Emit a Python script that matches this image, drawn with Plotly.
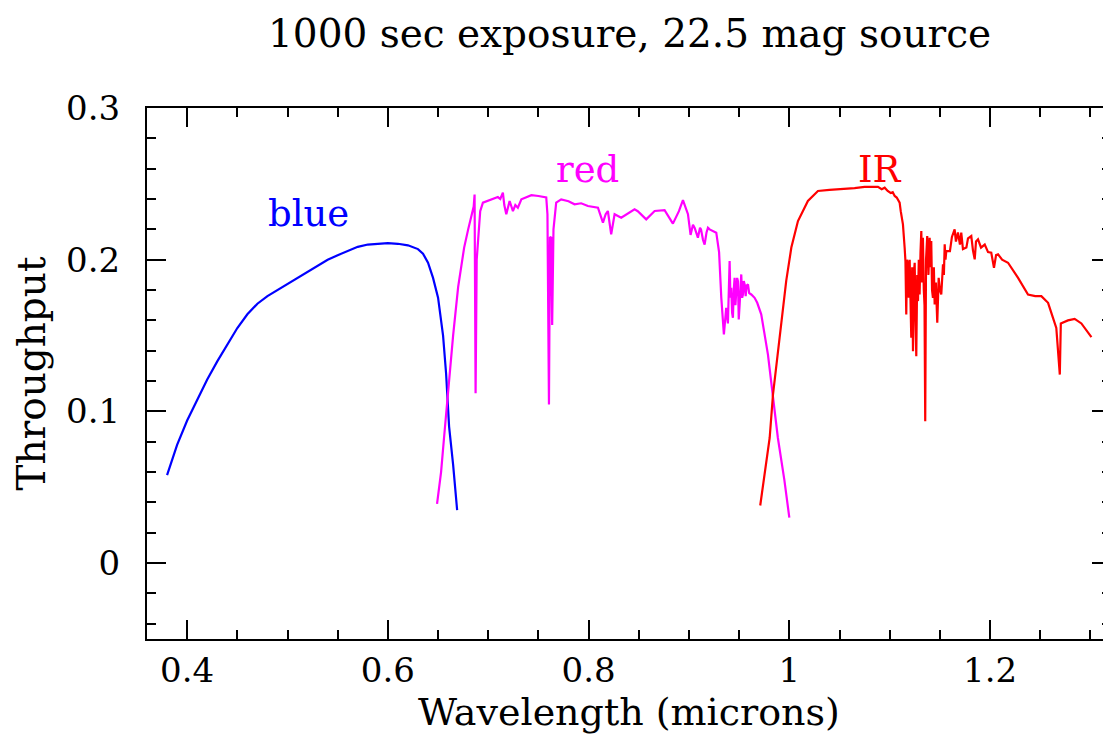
import plotly.graph_objects as go

# ---- data ----
blue_wl = [0.380, 0.390, 0.400, 0.410, 0.420, 0.430, 0.440, 0.450, 0.460, 0.470,
           0.480, 0.490, 0.500, 0.510, 0.520, 0.530, 0.540, 0.550, 0.560, 0.570,
           0.580, 0.590, 0.600, 0.610, 0.620, 0.630, 0.635, 0.640, 0.645, 0.650,
           0.655, 0.658, 0.661, 0.665, 0.669]
blue_tp = [0.058, 0.078, 0.094, 0.108, 0.121, 0.133, 0.144, 0.155, 0.164, 0.171,
           0.176, 0.180, 0.184, 0.188, 0.192, 0.196, 0.200, 0.203, 0.206, 0.2085,
           0.210, 0.2105, 0.211, 0.2105, 0.2095, 0.207, 0.204, 0.198, 0.188, 0.175,
           0.150, 0.125, 0.090, 0.065, 0.035]

red_wl = [0.649, 0.653, 0.656, 0.659, 0.6615, 0.665, 0.670, 0.676, 0.680, 0.683,
          0.6855, 0.6864, 0.6874, 0.6885, 0.6897, 0.692, 0.6947, 0.700, 0.705, 0.7096,
          0.712, 0.7146, 0.716, 0.718, 0.7213, 0.7246, 0.727, 0.7295, 0.733, 0.738,
          0.743, 0.750, 0.7578, 0.759, 0.7605, 0.7615, 0.7627, 0.7637, 0.765, 0.7677,
          0.7727, 0.780, 0.786, 0.7926, 0.7993, 0.8093, 0.8143, 0.817, 0.8192, 0.8225,
          0.8259, 0.8325, 0.840, 0.8458, 0.849, 0.8574, 0.8658, 0.8757, 0.884, 0.890,
          0.894, 0.899, 0.9016, 0.9040, 0.9056, 0.9075, 0.9089, 0.9110, 0.912, 0.9140,
          0.9156, 0.9175, 0.9189, 0.9206, 0.9240, 0.9272, 0.9300,
          0.9322, 0.9348, 0.9360, 0.9371, 0.9388, 0.9405, 0.9413, 0.9421, 0.9430, 0.9438,
          0.9446, 0.9455, 0.9463, 0.9471, 0.9480, 0.9488, 0.9496, 0.9505, 0.9513, 0.9521,
          0.9530, 0.9538, 0.9546, 0.9555, 0.9565, 0.9575, 0.9588, 0.9600, 0.9621, 0.9640,
          0.9654, 0.9680, 0.9720, 0.9787, 0.9837, 0.9886, 0.9950, 1.0000]
red_tp = [0.039, 0.060, 0.083, 0.105, 0.127, 0.150, 0.182, 0.208, 0.220, 0.228,
          0.235, 0.243, 0.112, 0.200, 0.210, 0.232, 0.2376, 0.239, 0.240, 0.2413,
          0.240, 0.2442, 0.236, 0.230, 0.2387, 0.232, 0.236, 0.2343, 0.2398, 0.241,
          0.2425, 0.242, 0.241, 0.230, 0.1045, 0.215, 0.2145, 0.157, 0.220, 0.2376,
          0.2398, 0.2385, 0.2365, 0.2372, 0.2354, 0.2343, 0.2244, 0.230, 0.2321, 0.2167,
          0.230, 0.2277, 0.231, 0.2332, 0.232, 0.2266, 0.2321, 0.2326, 0.2238, 0.232,
          0.2392, 0.230, 0.2163, 0.2230, 0.2211, 0.2170, 0.2145, 0.2210, 0.2200, 0.2130,
          0.2100, 0.2180, 0.2211, 0.2200, 0.2190, 0.2178, 0.2050,
          0.1750, 0.1507, 0.1620, 0.1683, 0.1580, 0.1991, 0.1750, 0.1815, 0.1650, 0.1617,
          0.1800, 0.1881, 0.1700, 0.1771, 0.1880, 0.1859, 0.1606, 0.1705, 0.1850, 0.1903,
          0.1750, 0.1771, 0.1860, 0.1837, 0.1760, 0.1830, 0.1837, 0.1780, 0.1771, 0.1760,
          0.1749, 0.1716, 0.1640, 0.1375, 0.1110, 0.0825, 0.0550, 0.0300]

ir_wl = [0.971, 0.976, 0.9804, 0.9837, 0.9886, 0.993, 0.9969, 1.002, 1.0086, 1.0185,
         1.0285, 1.040, 1.0517, 1.065, 1.075, 1.082, 1.0883, 1.092, 1.095, 1.098,
         1.101, 1.103, 1.105, 1.107, 1.1099, 1.111,
         1.1132, 1.1149, 1.1157, 1.1165, 1.1173, 1.1182, 1.1190, 1.1199, 1.1207, 1.1215,
         1.1224, 1.1232, 1.1240, 1.1249, 1.1257, 1.1265, 1.1274, 1.1282, 1.1290, 1.1298,
         1.1307, 1.1315, 1.1323, 1.1331, 1.1340, 1.1347, 1.1354, 1.1362, 1.1374, 1.1386,
         1.1398, 1.1406, 1.1414, 1.1422, 1.1431, 1.1440, 1.1448, 1.1460, 1.1474, 1.1481,
         1.1488, 1.1500, 1.1514, 1.1531, 1.1540, 1.1548, 1.1556, 1.1564,
         1.1600, 1.1620, 1.1647, 1.1660, 1.1680, 1.1700, 1.1713, 1.1730, 1.1764, 1.1780,
         1.1813, 1.1830, 1.1847, 1.1860, 1.1880, 1.1910, 1.1947, 1.1980, 1.2012, 1.2039,
         1.2060, 1.2080, 1.2120, 1.2179, 1.2279, 1.2378, 1.2450,
         1.2511, 1.2578, 1.2627, 1.2660, 1.2695, 1.2705, 1.2776, 1.2843, 1.2910, 1.3010]
ir_tp = [0.038, 0.060, 0.0825, 0.111, 0.1375, 0.165, 0.186, 0.208, 0.2255, 0.2387,
         0.2453, 0.246, 0.2464, 0.2472, 0.248, 0.2478, 0.248, 0.2465, 0.2475, 0.2453,
         0.244, 0.2445, 0.242, 0.241, 0.2376, 0.232,
         0.2233, 0.2079, 0.1990, 0.1639, 0.2000, 0.1969, 0.1750, 0.2000, 0.1705, 0.1485,
         0.1950, 0.1397, 0.1900, 0.1980, 0.1600, 0.1364, 0.1900, 0.1727, 0.2000, 0.1771,
         0.2050, 0.2189, 0.1850, 0.2145, 0.1800, 0.1700, 0.0935, 0.2000, 0.2156, 0.1900,
         0.2145, 0.1950, 0.2123, 0.1800, 0.1749, 0.1950, 0.1705, 0.1850, 0.1584, 0.1750,
         0.1881, 0.1800, 0.1771, 0.1969, 0.1900, 0.2101, 0.2000, 0.2057,
         0.2057, 0.2150, 0.2200, 0.2120, 0.2180, 0.2100, 0.2178, 0.2070, 0.2080, 0.2140,
         0.2156, 0.2060, 0.2002, 0.2120, 0.2134, 0.2080, 0.2100, 0.2050, 0.2046, 0.1947,
         0.2030, 0.2035, 0.2000, 0.1980, 0.1880, 0.1770, 0.1760,
         0.1760, 0.1716, 0.1617, 0.1550, 0.1243, 0.1580, 0.1600, 0.1610, 0.1580, 0.1490]

labels = ["blue", "red", "IR"]
label_wl = [0.5205, 0.7993, 1.0908]
label_tp = [0.2304, 0.2596, 0.2596]
colors = ["#0000ff", "#ff00ff", "#ff0000"]

x_ticks = [0.4, 0.6, 0.8, 1.0, 1.2]
x_ticktext = ["0.4", "0.6", "0.8", "1", "1.2"]
y_ticks = [0, 0.1, 0.2, 0.3]
y_ticktext = ["0", "0.1", "0.2", "0.3"]

FONT = "DejaVu Serif"

fig = go.Figure()
for wl, tp, c in [(blue_wl, blue_tp, colors[0]), (red_wl, red_tp, colors[1]), (ir_wl, ir_tp, colors[2])]:
    fig.add_trace(go.Scatter(x=wl, y=tp, mode="lines", line=dict(color=c, width=2.2),
                             showlegend=False, hoverinfo="skip"))

for t, xw, yt, c in zip(labels, label_wl, label_tp, colors):
    fig.add_annotation(x=xw, y=yt, text=t, showarrow=False, xanchor="center", yanchor="middle",
                       font=dict(family=FONT, size=37, color=c))

fig.add_annotation(xref="paper", yref="paper", x=0.5, y=1 + 75 / 531,
                   text="1000 sec exposure, 22.5 mag source",
                   showarrow=False, xanchor="center", yanchor="middle",
                   font=dict(family=FONT, size=39, color="black"))

axis_common = dict(showline=True, linecolor="black", linewidth=2, mirror="allticks",
                   ticks="inside", ticklen=19, tickwidth=2, tickcolor="black",
                   showgrid=False, zeroline=False,
                   tickfont=dict(family=FONT, size=34, color="black"))

fig.update_xaxes(range=[0.36, 1.3205], tickmode="array", tickvals=x_ticks, ticktext=x_ticktext,
                 minor=dict(dtick=0.05, tick0=0, ticks="inside", ticklen=9, tickwidth=2,
                            tickcolor="black", showgrid=False),
                 title=dict(text="Wavelength (microns)",
                            font=dict(family=FONT, size=38, color="black"), standoff=0),
                 ticklabelstandoff=0, automargin=False, **axis_common)
fig.update_yaxes(range=[-0.05, 0.3], tickmode="array", tickvals=y_ticks, ticktext=y_ticktext,
                 minor=dict(dtick=0.02, tick0=0, ticks="inside", ticklen=9, tickwidth=2,
                            tickcolor="black", showgrid=False),
                 title=dict(text="Throughput", font=dict(family=FONT, size=39, color="black"),
                            standoff=8),
                 ticklabelstandoff=18, automargin=False, **axis_common)

fig.update_layout(width=1111, height=744, margin=dict(l=139, r=8, t=100, b=113),
                  paper_bgcolor="white", plot_bgcolor="white")

fig.write_html("out.html")
